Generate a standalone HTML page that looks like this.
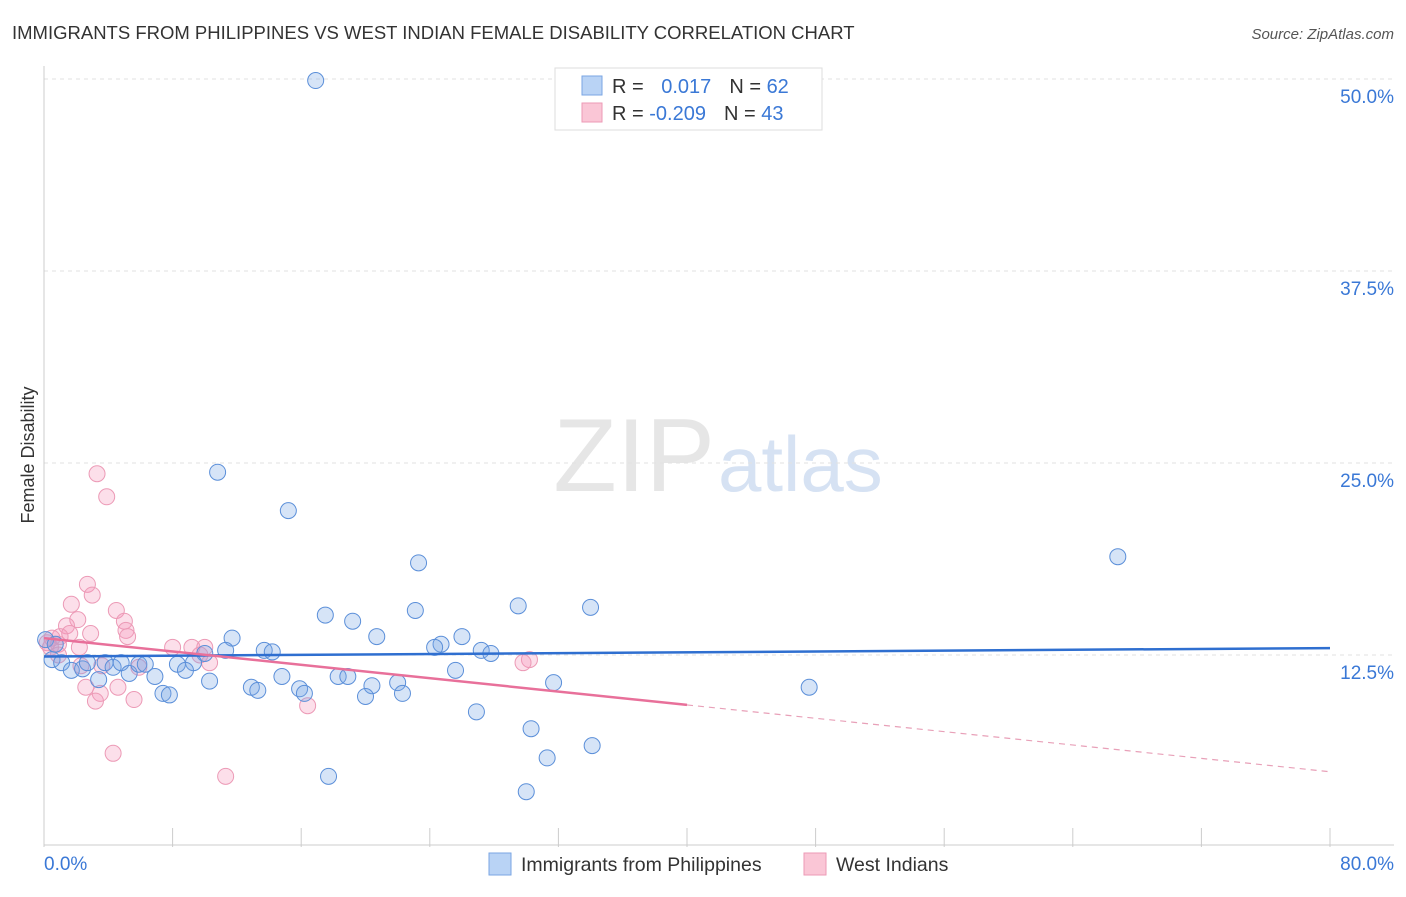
<!DOCTYPE html>
<html><head><meta charset="utf-8"><style>
body{margin:0;background:#fff;font-family:"Liberation Sans",sans-serif}
svg text{font-family:"Liberation Sans",sans-serif}
</style></head><body>
<svg width="1406" height="892" viewBox="0 0 1406 892">
<text x="12" y="39" font-size="18.5" fill="#333">IMMIGRANTS FROM PHILIPPINES VS WEST INDIAN FEMALE DISABILITY CORRELATION CHART</text>
<text x="1394" y="39" font-size="15" fill="#555" font-style="italic" text-anchor="end">Source: ZipAtlas.com</text>
<text x="715" y="491" font-size="104" fill="#e6e6e6" text-anchor="end" font-family="Liberation Serif">ZIP</text>
<text x="718" y="491" font-size="78" fill="#d6e2f3">atlas</text>
<g id="grid"></g><g id="axes"></g><g id="marks"></g>
<text transform="translate(34,455) rotate(-90)" font-size="18" fill="#333" text-anchor="middle">Female Disability</text>
<g>
<rect x="555" y="68" width="267" height="62" fill="#fff" stroke="#ddd"/>
<rect x="582" y="76" width="20" height="19" fill="#b9d3f5" stroke="#7aa6e3"/>
<rect x="582" y="103" width="20" height="19" fill="#fac6d6" stroke="#ec9ab6"/>
<text x="612" y="93" font-size="20" fill="#333">R = <tspan fill="#3a78d6" dx="12">0.017</tspan><tspan fill="#333" dx="18">N = </tspan><tspan fill="#3a78d6">62</tspan></text>
<text x="612" y="120" font-size="20" fill="#333">R = <tspan fill="#3a78d6">-0.209</tspan><tspan fill="#333" dx="18">N = </tspan><tspan fill="#3a78d6">43</tspan></text>
</g>
<g>
<rect x="489" y="853" width="22" height="22" fill="#b9d3f5" stroke="#7aa6e3"/>
<text x="521" y="871" font-size="19.5" fill="#333">Immigrants from Philippines</text>
<rect x="804" y="853" width="22" height="22" fill="#fac6d6" stroke="#ec9ab6"/>
<text x="836" y="871" font-size="19.5" fill="#333">West Indians</text>
</g>
</svg>
<script>
const yTicks=[12.5,25,37.5,50];
const xTickLabels=["0.0%","80.0%"];
const blueX=[16.9,10.8,15.2,23.3,66.8,29.5,34.0,23.1,17.5,19.2,11.7,20.7,26.0,24.7,24.3,11.3,13.7,14.2,27.2,27.8,10.0,9.3,0.5,0.1,0.7,1.1,1.7,2.4,2.7,3.8,4.3,4.8,5.3,5.9,6.3,6.9,8.3,8.8,3.4,10.3,7.4,7.8,12.9,13.3,14.8,15.9,16.2,18.3,18.9,20.4,20.0,22.0,22.3,25.6,31.7,47.6,26.9,30.3,34.1,31.3,17.7,30.0];
const blueY=[49.9,24.4,21.9,18.5,18.9,15.7,15.6,15.4,15.1,14.7,13.6,13.7,13.7,13.2,13.0,12.8,12.8,12.7,12.8,12.6,12.6,12.0,12.2,13.5,13.2,12.0,11.5,11.6,12.0,12.0,11.7,12.0,11.3,11.9,11.9,11.1,11.9,11.5,10.9,10.8,10.0,9.9,10.4,10.2,11.1,10.3,10.0,11.1,11.1,10.5,9.8,10.7,10.0,11.5,10.7,10.4,8.8,7.7,6.6,5.8,4.6,3.6];
const pinkX=[3.3,3.9,2.7,3.0,1.7,4.5,2.1,5.0,1.4,5.1,2.9,5.2,1.6,1.0,0.5,0.2,0.9,0.4,2.2,8.0,9.2,10.0,9.7,10.3,0.9,2.3,3.6,5.9,30.2,29.8,2.6,4.6,3.5,3.2,5.6,16.4,4.3,11.3];
const pinkY=[24.3,22.8,17.1,16.4,15.8,15.4,14.8,14.7,14.4,14.1,13.9,13.7,13.9,13.7,13.6,13.3,13.2,13.0,13.0,13.0,13.0,13.0,12.5,12.0,12.5,11.8,11.8,11.7,12.2,12.0,10.4,10.4,10.0,9.5,9.6,9.2,6.1,4.6];
const blueTrend=[12.4,12.95];
const pinkTrend=[13.6,4.9];
const pinkSolidEnd=40;
const NS='http://www.w3.org/2000/svg';
const X0=44,X1=1330,Y0=847;
const sx=v=>X0+(v/80)*(X1-X0);
const sy=v=>Y0-v/12.5*192;
function mk(t,a,p){const e=document.createElementNS(NS,t);for(const k in a)e.setAttribute(k,a[k]);p.appendChild(e);return e;}
const grid=document.getElementById('grid'),axes=document.getElementById('axes'),marks=document.getElementById('marks');
yTicks.forEach(t=>{
 const l=mk('line',{x1:X0,x2:1394,y1:sy(t),y2:sy(t),stroke:'#e2e2e2','stroke-dasharray':'4,4'},grid);
 
 
 const tx=mk('text',{x:1394,y:sy(t)+24,'font-size':19,fill:'#3a78d6','text-anchor':'end'},axes);
 tx.textContent=t.toFixed(1)+'%';
 
 
});
const yax=mk('line',{x1:X0,x2:X0,y1:66,y2:Y0,stroke:'#ccc'},axes);


const xax=mk('line',{x1:X0,x2:1394,y1:Y0-2,y2:Y0-2,stroke:'#ccc'},axes);


for(let i=0;i<=10;i++){const tk=mk('line',{x1:sx(i*8),x2:sx(i*8),y1:828,y2:Y0,stroke:'#ccc'},axes);
 
 }
const xl0=mk('text',{x:44,y:870,'font-size':19,fill:'#3a78d6'},axes);xl0.textContent=xTickLabels[0];


const xl1=mk('text',{x:1394,y:870,'font-size':19,fill:'#3a78d6','text-anchor':'end'},axes);xl1.textContent=xTickLabels[1];


pinkX.forEach((v,i)=>{const c=mk('circle',{cx:sx(v),cy:sy(pinkY[i]),r:8,fill:'rgba(244,150,185,0.3)',stroke:'#ec9ab6','stroke-width':1},marks);
 
 });
blueX.forEach((v,i)=>{const c=mk('circle',{cx:sx(v),cy:sy(blueY[i]),r:8,fill:'rgba(120,165,230,0.3)',stroke:'#5b8fd9','stroke-width':1},marks);
 
 });
const bt=mk('line',{x1:sx(0),y1:sy(blueTrend[0]),x2:sx(80),y2:sy(blueTrend[1]),stroke:'#2f6fd0','stroke-width':2.5},marks);


const pAt=v=>pinkTrend[0]+(pinkTrend[1]-pinkTrend[0])*v/80;
const pt=mk('line',{x1:sx(0),y1:sy(pinkTrend[0]),x2:sx(pinkSolidEnd),y2:sy(pAt(pinkSolidEnd)),stroke:'#e8709a','stroke-width':2.5},marks);


const pd=mk('line',{x1:sx(pinkSolidEnd),y1:sy(pAt(pinkSolidEnd)),x2:sx(80),y2:sy(pinkTrend[1]),stroke:'#e8a0b8','stroke-width':1.2,'stroke-dasharray':'6,5'},marks);


</script>
</body></html>
